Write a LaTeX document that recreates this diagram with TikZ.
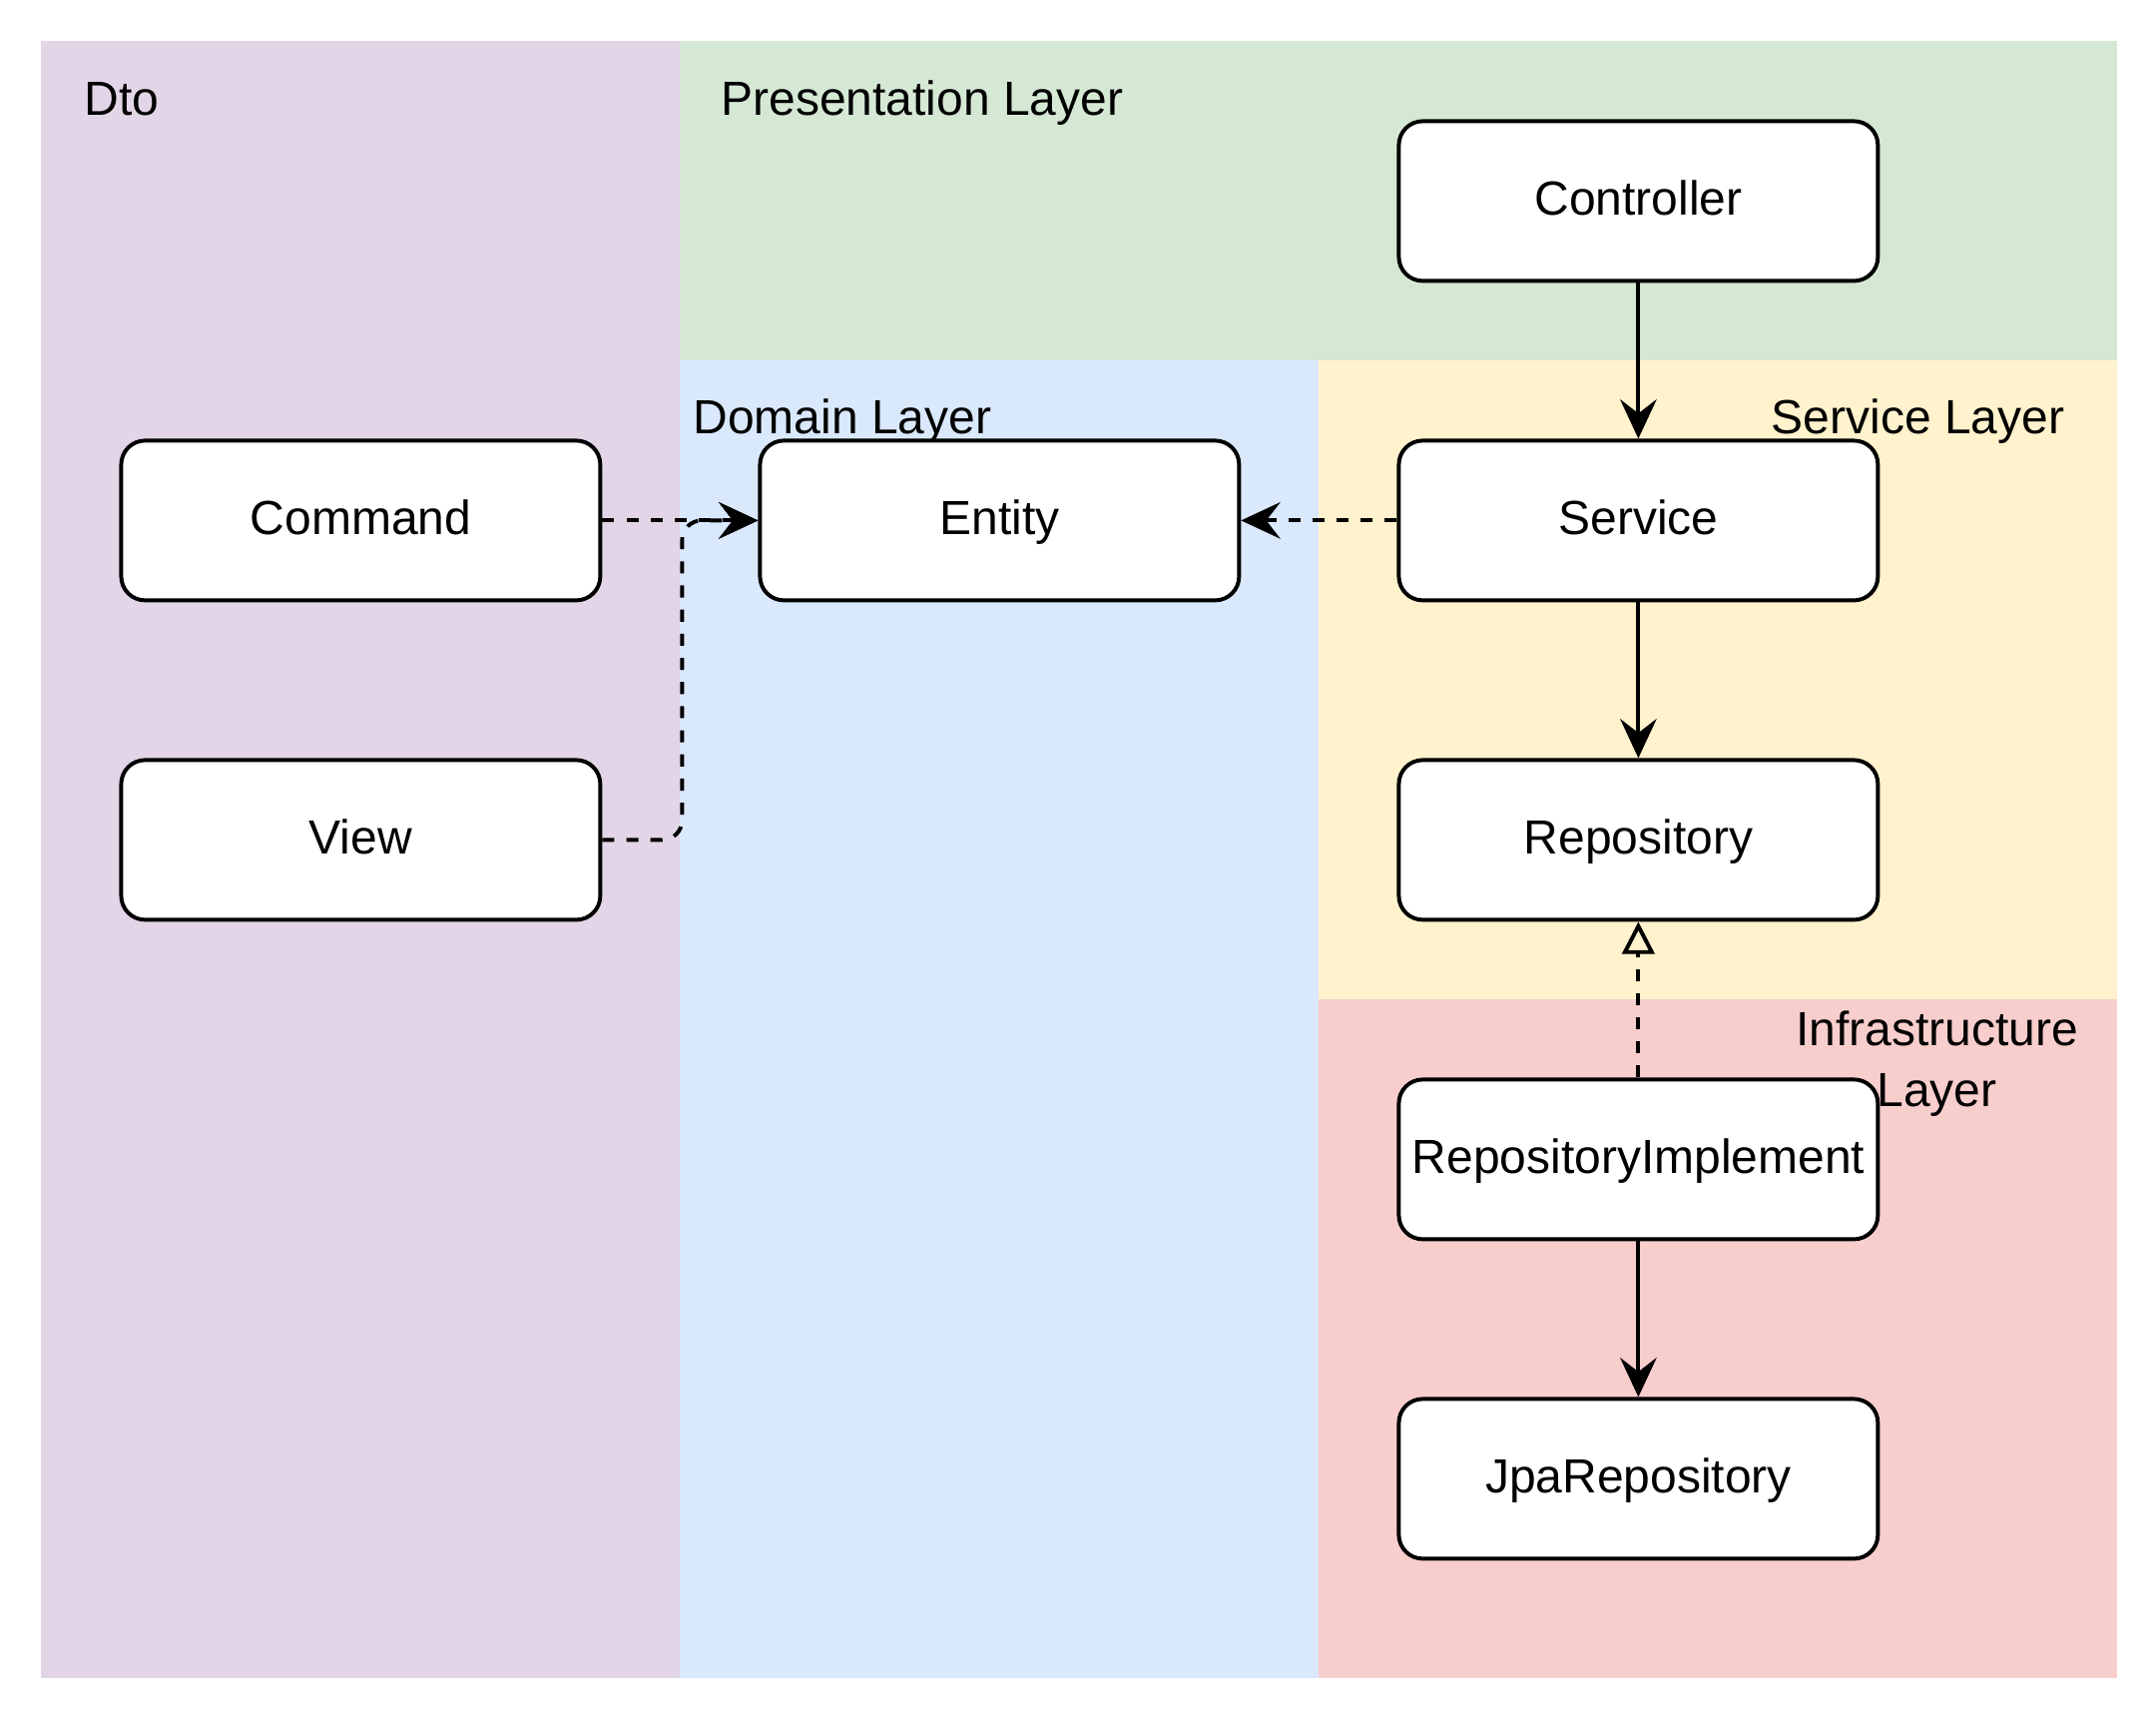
\documentclass[tikz,border=0pt]{standalone}
\usepackage{fontspec}
\setmainfont{Liberation Sans}
\usetikzlibrary{arrows.meta}
\definecolor{dtocol}{HTML}{E1D5E7}
\definecolor{prescol}{HTML}{D5E8D4}
\definecolor{domcol}{HTML}{DAE8FC}
\definecolor{servcol}{HTML}{FFF2CC}
\definecolor{infcol}{HTML}{F8CECC}
\newcommand{\diafont}{\fontsize{17.07pt}{21.6pt}\selectfont}

\begin{document}
\begin{tikzpicture}[x=0.05cm,y=-0.05cm,line width=1.4pt,
  box/.style={draw,fill=white,rounded corners=8.5pt,minimum width=170.7pt,minimum height=56.9pt,
    inner sep=0pt,text height=13pt,text depth=2.9pt,font=\diafont},
  lbl/.style={inner sep=0pt,font=\diafont},
  arr/.style={-{Stealth[length=14pt,width=13pt,inset=5pt]}},
  dasharr/.style={arr,dash pattern=on 4.3pt off 4.3pt},
  implarr/.style={-{Triangle[open,length=11.5pt,width=11.5pt]},dash pattern=on 4.3pt off 4.3pt}]
\useasboundingbox (-0.35,-0.35) rectangle (539.65,429.65);
%layers
\fill[dtocol] (10,10) rectangle (170,420);
\fill[prescol] (170,10) rectangle (530,90);
\fill[domcol] (170,90) rectangle (330,420);
\fill[servcol] (330,90) rectangle (530,250);
\fill[infcol] (330,250) rectangle (530,420);
\node[lbl,anchor=base west] (dtolbl) at (20.3,28.5) {Dto};
\node[lbl,anchor=base west] (preslbl) at (179.8,28.5) {Presentation Layer};
\node[lbl,anchor=base west] (domlbl) at (172.8,108.3) {Domain Layer};
\node[lbl,anchor=base] (servlbl) at (480,108.3) {Service Layer};
\node[lbl,align=center] (inflbl) at (484.8,266) {Infrastructure\\Layer};
%boxes
\node[box] (ctrl) at (410,50) {Controller};
\node[box] (cmd) at (90,130) {Command};
\node[box] (ent) at (250,130) {Entity};
\node[box] (srv) at (410,130) {Service};
\node[box] (view) at (90,210) {View};
\node[box] (repo) at (410,210) {Repository};
\node[box] (impl) at (410,290) {RepositoryImplement};
\node[box] (jpa) at (410,370) {JpaRepository};
%arrows
\draw[arr] (ctrl) -- (srv);
\draw[arr] (srv) -- (repo);
\draw[arr] (impl) -- (jpa);
\draw[dasharr] (srv) -- (ent);
\draw[dasharr] (cmd) -- (ent);
\draw[dasharr,rounded corners=7pt] (view.east) -- ++(20,0) |- (ent.west);
\draw[implarr] (impl) -- (repo);
\end{tikzpicture}
\end{document}
